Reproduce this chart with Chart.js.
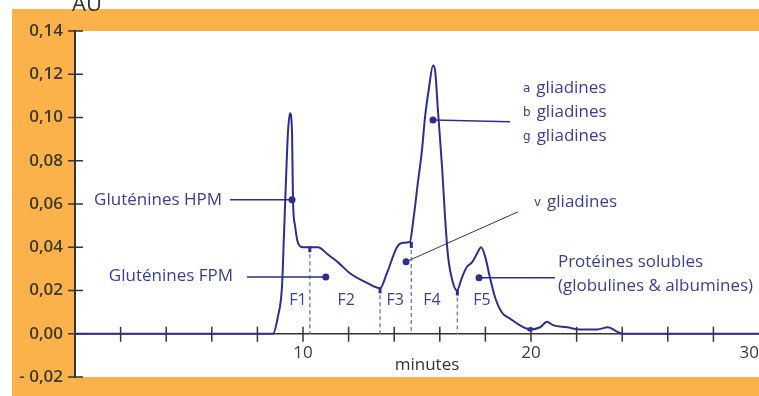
<!DOCTYPE html>
<html>
<head>
<meta charset="utf-8">
<script src="https://cdn.jsdelivr.net/npm/chart.js@4"></script>
<style>
  html, body { margin: 0; padding: 0; background: #fff; }
  #wrap { width: 759px; height: 396px; }
</style>
</head>
<body>
<div id="wrap"><canvas id="chromato"></canvas></div>
<script>
// elution profile: time in minutes / absorbance
const minutes = [
  0, 8.68, 8.9, 9.08, 9.17, 9.25, 9.34, 9.43, 9.52, 9.56, 9.65, 9.78, 10.0, 10.31, 10.66,
  11.05, 11.54, 12.06, 12.81, 13.38, 13.68, 14.12, 14.34, 14.69, 14.82, 15.04, 15.22,
  15.35, 15.53, 15.70, 15.79, 15.92, 16.10, 16.23, 16.36, 16.58, 16.75, 16.97, 17.19,
  17.41, 17.63, 17.81, 17.98, 18.20, 18.42, 18.73, 19.08, 19.5, 19.96, 20.4, 20.7,
  20.96, 21.58, 22.15, 22.9, 23.38, 23.77, 24.04, 30
];
const absorbance = [
  0, 0, 0.008, 0.022, 0.047, 0.070, 0.093, 0.102, 0.093, 0.062, 0.050, 0.042, 0.040, 0.040, 0.040,
  0.037, 0.033, 0.028, 0.0235, 0.021, 0.028, 0.040, 0.042, 0.0425, 0.051, 0.070, 0.085,
  0.100, 0.114, 0.124, 0.122, 0.103, 0.077, 0.054, 0.036, 0.0235, 0.020, 0.026, 0.031,
  0.033, 0.037, 0.040, 0.036, 0.026, 0.017, 0.0097, 0.007, 0.004, 0.002, 0.003, 0.0055,
  0.004, 0.003, 0.002, 0.002, 0.003, 0.001, 0, 0
];

// axis ticks
const yTicks = [-0.02, 0, 0.02, 0.04, 0.06, 0.08, 0.10, 0.12, 0.14];
const xLabelled = [10, 20, 30];

// fractions F1..F5 and the cut points between them
const fractions = ['F1', 'F2', 'F3', 'F4', 'F5'];
const fractionCentres = [9.78, 11.9, 14.04, 15.66, 17.85];
const cutTimes = [10.3, 13.38, 14.75, 16.77];
const cutValues = [0.040, 0.021, 0.042, 0.020];

const BLUE = '#2d2f8c';
const TEXT_BLUE = '#3b3d96';
const AXIS = '#333333';
const ORANGE = '#fcb24a';
const FONT = '"Open Sans", sans-serif';

// callouts: dot on the curve, leader line, text block
const callouts = [
  { dot: [9.52, 0.062], end: [6.8, 0.062], text: [[null, 'Gluténines HPM']], at: [6.45, 0.062], align: 'right' },
  { dot: [11.0, 0.0262], end: [7.54, 0.0262], text: [[null, 'Gluténines FPM']], at: [6.93, 0.0268], align: 'right' },
  { dot: [15.70, 0.0988], end: [19.08, 0.0980], text: [['a', 'gliadines'], ['b', 'gliadines'], ['g', 'gliadines']], at: [19.65, 0.1136], align: 'left' },
  { dot: [14.52, 0.0333], end: [19.43, 0.0564], text: [['v', 'gliadines']], at: [20.13, 0.061], align: 'left', thin: true },
  { dot: [17.72, 0.0259], end: [21.05, 0.0259], text: [[null, 'Protéines solubles'], [null, '(globulines & albumines)']], at: [21.18, 0.0333], align: 'left' }
];

function fmtY(v) {
  const s = Math.abs(v).toFixed(2).replace('.', ',');
  return v < -1e-9 ? '- ' + s : s;
}

const frame = {
  id: 'frame',
  beforeDraw(chart) {
    const { ctx, chartArea: a } = chart;
    ctx.save();
    ctx.fillStyle = ORANGE;
    ctx.fillRect(12, 9, chart.width - 12, chart.height - 9);
    ctx.fillStyle = '#fff';
    ctx.fillRect(a.left, a.top, a.right - a.left, a.bottom - a.top);
    ctx.restore();
  },
  beforeDatasetsDraw(chart) {
    const { ctx, scales: { x, y } } = chart;
    ctx.save();
    // dashed cuts between fractions
    ctx.strokeStyle = '#7f82c2';
    ctx.lineWidth = 1.5;
    ctx.setLineDash([4, 3]);
    cutTimes.forEach((t, i) => {
      const px = x.getPixelForValue(t);
      ctx.beginPath();
      ctx.moveTo(px, y.getPixelForValue(cutValues[i]));
      ctx.lineTo(px, y.getPixelForValue(0));
      ctx.stroke();
    });
    ctx.setLineDash([]);
    // crossing tick marks
    ctx.strokeStyle = AXIS;
    ctx.lineWidth = 1.5;
    const y0 = y.getPixelForValue(0);
    x.ticks.forEach(t => {
      if (t.value <= x.min || t.value >= x.max) return;
      const px = x.getPixelForValue(t.value);
      ctx.beginPath();
      ctx.moveTo(px, y0 - 7);
      ctx.lineTo(px, y0 + 8);
      ctx.stroke();
    });
    y.ticks.forEach(t => {
      const py = y.getPixelForValue(t.value);
      ctx.beginPath();
      ctx.moveTo(x.left - 7, py);
      ctx.lineTo(x.left + 8, py);
      ctx.stroke();
    });
    ctx.restore();
  },
  afterDraw(chart) {
    const { ctx, scales: { x, y } } = chart;
    ctx.save();

    // small marks where the fractions are cut
    ctx.fillStyle = BLUE;
    cutTimes.forEach((t, i) => {
      ctx.fillRect(x.getPixelForValue(t) - 1.5, y.getPixelForValue(cutValues[i]) - 1, 3, 6);
    });
    ctx.fillRect(x.getPixelForValue(19.96) - 2.5, y.getPixelForValue(0.002) - 2, 5, 4);

    // fraction names
    ctx.font = '16px ' + FONT;
    ctx.fillStyle = TEXT_BLUE;
    ctx.textAlign = 'center';
    ctx.textBaseline = 'middle';
    fractions.forEach((f, i) => {
      ctx.fillText(f, x.getPixelForValue(fractionCentres[i]), y.getPixelForValue(0.0152));
    });

    // callouts
    callouts.forEach(c => {
      const dx = x.getPixelForValue(c.dot[0]), dy = y.getPixelForValue(c.dot[1]);
      ctx.strokeStyle = BLUE;
      ctx.lineWidth = c.thin ? 1 : 1.5;
      ctx.beginPath();
      ctx.moveTo(x.getPixelForValue(c.end[0]), y.getPixelForValue(c.end[1]));
      ctx.lineTo(dx, dy);
      ctx.stroke();
      ctx.fillStyle = BLUE;
      ctx.beginPath();
      ctx.arc(dx, dy, 3.5, 0, Math.PI * 2);
      ctx.fill();

      const tx = x.getPixelForValue(c.at[0]);
      let ty = y.getPixelForValue(c.at[1]);
      ctx.fillStyle = TEXT_BLUE;
      ctx.textBaseline = 'middle';
      c.text.forEach(([pre, word]) => {
        ctx.textAlign = c.align;
        let cx = tx;
        if (pre) {
          ctx.textAlign = 'left';
          ctx.font = '12px "DejaVu Sans", sans-serif';
          ctx.fillText(pre, cx, ty + 1);
          cx += ctx.measureText(pre).width + 6;
        }
        ctx.font = '17px ' + FONT;
        ctx.fillText(word, cx, ty);
        ty += 24;
      });
    });

    // axis words
    ctx.fillStyle = '#333';
    ctx.textAlign = 'center';
    ctx.textBaseline = 'alphabetic';
    ctx.font = '17px ' + FONT;
    ctx.fillText('minutes', x.getPixelForValue(15.44), y.getPixelForValue(0) + 36);
    ctx.textAlign = 'left';
    ctx.font = '22px ' + FONT;
    ctx.fillText('AU', 72, 11);
    ctx.restore();
  }
};

new Chart(document.getElementById('chromato'), {
  type: 'line',
  data: {
    datasets: [{
      data: minutes.map((m, i) => ({ x: m, y: absorbance[i] })),
      borderColor: BLUE,
      borderWidth: 2,
      pointRadius: 0,
      cubicInterpolationMode: 'monotone',
      fill: false
    }]
  },
  options: {
    responsive: true,
    maintainAspectRatio: false,
    animation: false,
    layout: { padding: { left: 12, top: 31, bottom: 19, right: 0 } },
    plugins: { legend: { display: false }, tooltip: { enabled: false } },
    scales: {
      x: {
        type: 'linear',
        position: { y: 0 },
        min: 0,
        max: 30,
        grid: { display: false, drawTicks: false },
        border: { display: true, color: AXIS, width: 1.5 },
        ticks: {
          stepSize: 2,
          align: 'inner',
          padding: 9,
          color: '#3a3a4a',
          font: { family: FONT, size: 17 },
          maxRotation: 0,
          autoSkip: false,
          callback: v => xLabelled.includes(v) ? String(v) : ''
        },
        afterFit(s) { s.paddingLeft = 0; s.paddingRight = 0; }
      },
      y: {
        min: yTicks[0],
        max: yTicks[yTicks.length - 1],
        grid: { display: false, drawTicks: false },
        border: { display: true, color: AXIS, width: 2 },
        afterBuildTicks(s) { s.ticks = yTicks.map(v => ({ value: v })); },
        ticks: {
          padding: 12,
          color: '#3b3a30',
          font: { family: FONT, size: 17, weight: '600' },
          callback: v => fmtY(v)
        },
        afterFit(s) { s.width = 63; s.paddingTop = 0; s.paddingBottom = 0; }
      }
    }
  },
  plugins: [frame]
});
</script>
</body>
</html>
